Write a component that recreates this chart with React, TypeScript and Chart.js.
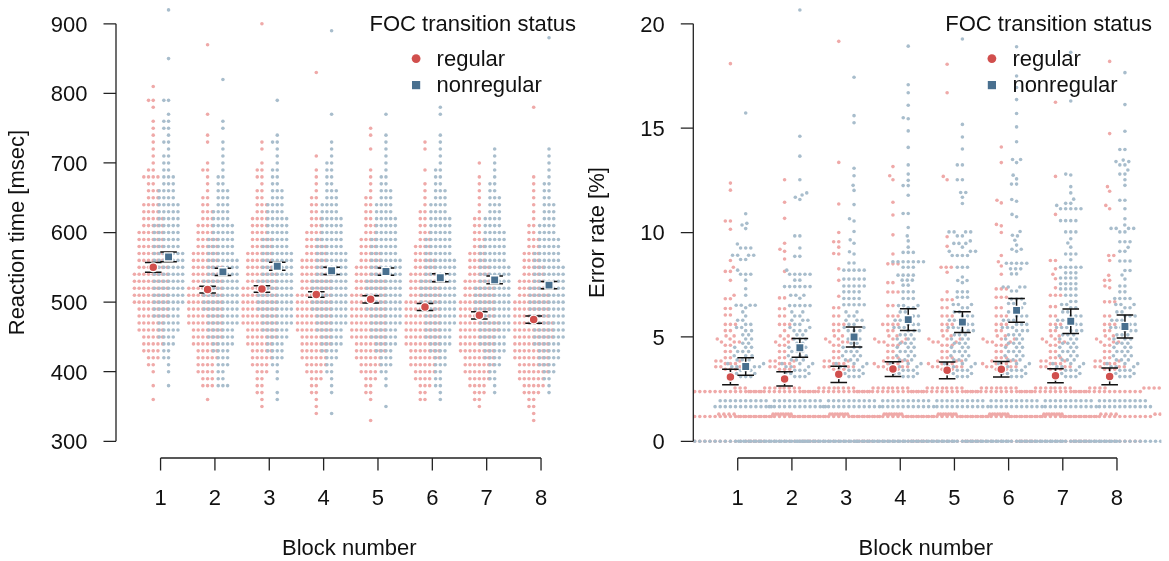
import { useEffect, useRef } from "react";
import { Chart, registerables } from "chart.js";

Chart.register(...registerables);

// ---------------- data ----------------
const blocks = [1, 2, 3, 4, 5, 6, 7, 8];
const blockLabels = ["1", "2", "3", "4", "5", "6", "7", "8"];
const groupLabels = ["regular", "nonregular"];
const legendTitle = "FOC transition status";
const xAxisTitle = "Block number";
const rtAxisTitle = "Reaction time [msec]";
const erAxisTitle = "Error rate [%]";
const rtTicks = [300, 400, 500, 600, 700, 800, 900];
const rtTickLabels = ["300", "400", "500", "600", "700", "800", "900"];
const erTicks = [0, 5, 10, 15, 20];
const erTickLabels = ["0", "5", "10", "15", "20"];

// condition means and half-widths of the error bars
const rtMeanRegular = [550, 518, 519, 511, 504, 493, 481, 475];
const rtErrRegular = [7, 4.7, 4.7, 4, 5.2, 5, 5.2, 5.2];
const rtMeanNonregular = [565, 543.5, 551.5, 545, 544, 535, 532, 524.5];
const rtErrNonregular = [7, 5.2, 5.7, 5.2, 5.2, 5.7, 5.7, 5.2];
const erMeanRegular = [3.08, 2.99, 3.21, 3.46, 3.4, 3.45, 3.14, 3.11];
const erErrRegular = [0.37, 0.34, 0.39, 0.35, 0.4, 0.37, 0.33, 0.4];
const erMeanNonregular = [3.58, 4.48, 5.0, 5.83, 5.71, 6.27, 5.75, 5.5];
const erErrNonregular = [0.42, 0.45, 0.48, 0.52, 0.5, 0.57, 0.585, 0.555];

// raw reaction times: participant counts per 10 ms bin, bins at 330, 340, 350, ...
const rtBinFirst = 330;
const rtBinStep = 10;
const rtReg1 = [0,0,0,1,0,1,0,1,2,3, 4,5,5,6,6,7,7,8,8,8, 8,8,7,7,7,6,6,6,5,5, 4,4,3,3,2,4,2,1,1,1, 1,1,1,1,0,1,2,0,1];
const rtReg2 = [0,0,0,1,0,3,3,4,4,5, 5,6,7,7,8,8,8,8,8,8, 7,7,7,6,6,5,5,4,4,3, 3,2,2,1,1,1,2,1,0,0, 1,1,0,0,1,0,0,0,0,0, 0,0,0,0,1];
const rtReg3 = [0,0,1,1,2,2,2,3,4,5, 5,6,7,7,8,8,8,8,8,8, 7,7,7,6,6,5,5,4,4,4, 3,3,2,2,1,2,2,1,0,1, 1,0,0,0,0,0,0,0,0,0, 0,0,0,0,0,0,0,1];
const rtReg4 = [0,1,1,1,2,2,3,4,5,6, 6,7,7,8,8,8,8,8,8,7, 7,7,6,6,5,5,4,4,3,3, 2,2,2,1,1,1,1,0,1,0, 0,0,0,0,0,0,0,0,0,0, 1];
const rtReg5 = [1,0,0,1,2,2,3,4,5,6, 7,7,8,8,8,8,8,8,8,7, 7,6,6,5,5,4,4,3,3,2, 2,2,2,1,1,1,1,0,0,1, 0,1,1];
const rtReg6 = [0,0,0,2,2,3,4,5,6,7, 7,8,8,8,8,8,8,8,7,7, 6,6,5,5,4,4,3,3,2,2, 2,1,1,1,1,0,1,0,0,1, 1];
const rtReg7 = [0,0,1,2,3,4,5,6,7,7, 8,8,8,9,9,8,8,8,7,7, 6,5,5,4,4,3,3,2,2,2, 1,1,1,1,1,1,0,1];
const rtReg8 = [1,1,2,2,4,5,6,7,7,8, 8,8,9,9,9,8,8,8,7,7, 6,5,5,4,4,3,3,2,2,1, 1,1,1,1,1,1,0,0,0,0, 0,0,0,0,0,1];
const rtNon1 = [0,0,0,0,0,1,0,1,1,2, 2,3,4,5,5,6,6,7,7,7, 7,7,7,7,7,6,6,6,6,5, 5,5,4,4,3,3,2,2,2,1, 2,1,2,2,1,0,2,0,0,0, 0,0,1,0,0,0,0,0,0,1];
const rtNon2 = [0,0,0,0,0,3,2,2,3,3, 4,5,6,6,7,7,8,8,8,8, 8,7,7,7,6,6,6,5,5,4, 4,3,3,3,2,2,1,1,1,1, 1,0,1,1,0,0,0,0,0,1];
const rtNon3 = [0,0,0,1,1,0,1,1,2,3, 4,4,5,6,7,7,8,8,8,8, 8,7,7,7,7,6,6,5,5,5, 4,4,3,3,2,2,2,1,1,1, 2,1,0,0,0,0,1];
const rtNon4 = [0,1,0,0,1,1,1,2,2,3, 4,5,5,6,7,7,8,8,8,8, 8,7,7,7,7,6,6,5,5,5, 4,4,3,3,2,2,2,2,1,1, 1,0,0,0,1,0,0,0,0,0, 0,0,0,0,0,0,1];
const rtNon5 = [0,0,1,0,0,1,1,2,3,3, 4,5,6,6,7,7,8,8,8,8, 8,7,7,7,6,6,6,5,5,5, 4,4,3,3,2,2,1,1,1,1, 1,1,0,0,1];
const rtNon6 = [0,0,0,1,1,2,2,2,3,3, 4,5,6,6,7,7,8,8,8,8, 8,7,7,7,6,6,6,5,5,5, 4,4,3,3,2,2,2,1,1,1, 1,1,0,0,1,1];
const rtNon7 = [0,0,0,0,1,1,2,2,3,4, 5,6,6,7,7,8,8,8,8,8, 7,7,7,6,6,6,5,5,4,4, 3,3,3,2,2,1,1,1,1,1];
const rtNon8 = [0,0,0,0,1,1,2,3,4,5, 5,6,7,7,8,8,8,8,8,8, 7,7,7,6,6,5,5,4,4,3, 3,3,2,2,2,1,1,1,1,1, 0,0,0,0,0,0,0,0,0,0, 0,0,0,0,0,1];

// raw error rates: [error rate %, number of participants]
const erReg1 = [[0,14],[1.19,18],[1.3,8],[2.38,14],[2.55,8],[3.45,3],[3.57,4],[3.72,3],[3.85,3],[4.0,2],[4.3,2],[4.6,2],[4.76,3],[4.9,2],[5.05,2],[5.3,2],[5.6,3],[6.05,2],[6.36,2],[6.83,2],[7.0,1],[7.71,1],[8.14,2],[8.34,1],[8.66,1],[10.16,1],[10.55,2],[12.03,1],[12.37,1],[18.09,1]];
const erReg2 = [[0,14],[1.19,18],[1.3,8],[2.38,14],[2.55,7],[3.45,3],[3.57,3],[3.72,3],[3.85,3],[4.0,2],[4.3,2],[4.6,2],[4.76,2],[4.9,2],[5.05,2],[5.3,1],[5.6,3],[6.0,2],[6.35,2],[6.87,2],[8.14,1],[8.73,1],[9.1,1],[9.2,1],[9.49,1],[10.68,1],[11.45,1],[12.53,1]];
const erReg3 = [[0,14],[1.19,18],[1.3,8],[2.38,14],[2.55,8],[3.45,3],[3.57,4],[3.72,3],[3.85,3],[4.0,2],[4.3,2],[4.6,2],[4.76,3],[4.9,2],[5.05,2],[5.3,2],[5.6,3],[6.0,2],[6.4,2],[6.95,1],[7.71,1],[8.26,1],[8.97,1],[9.0,1],[9.3,1],[9.56,2],[10.0,1],[11.37,1],[13.36,1],[19.16,1]];
const erReg4 = [[0,14],[1.19,17],[1.3,8],[2.38,14],[2.55,8],[3.45,3],[3.57,4],[3.72,4],[3.85,3],[4.0,3],[4.3,2],[4.6,3],[4.76,3],[4.9,3],[5.05,2],[5.3,2],[5.6,4],[6.0,3],[6.5,2],[7.15,3],[7.6,2],[8.5,3],[8.97,1],[9.89,1],[10.84,1],[11.45,1],[12.53,1],[12.72,1],[13.16,1]];
const erReg5 = [[0,14],[1.19,17],[1.3,8],[2.38,14],[2.55,8],[3.45,3],[3.57,4],[3.72,4],[3.85,3],[4.0,3],[4.3,2],[4.6,3],[4.76,3],[4.9,3],[5.05,2],[5.3,2],[5.6,3],[6.0,3],[6.4,2],[6.78,3],[7.16,1],[8.1,1],[8.34,3],[9.34,1],[9.8,1],[12.53,1],[12.69,1],[16.7,1],[18.06,1]];
const erReg6 = [[0,14],[1.19,17],[1.3,8],[2.38,14],[2.55,8],[3.45,3],[3.57,4],[3.72,4],[3.85,3],[4.0,3],[4.3,2],[4.6,3],[4.76,3],[4.9,3],[5.05,2],[5.3,2],[5.6,3],[6.0,3],[6.4,2],[6.9,3],[7.3,3],[8.0,1],[8.4,1],[8.6,1],[8.9,1],[10.0,1],[10.32,1],[10.39,1],[11.42,1],[11.55,1],[13.35,1],[14.1,1]];
const erReg7 = [[0,14],[1.19,18],[1.3,8],[2.38,14],[2.55,8],[3.45,3],[3.57,4],[3.72,3],[3.85,3],[4.0,3],[4.3,2],[4.6,2],[4.76,3],[4.9,2],[5.05,2],[5.3,2],[5.6,3],[6.0,2],[6.45,2],[7.0,3],[7.35,1],[7.79,1],[8.0,1],[8.26,1],[8.66,2],[10.87,1],[12.69,1],[16.24,1]];
const erReg8 = [[0,14],[1.19,18],[1.3,8],[2.38,14],[2.55,8],[3.45,3],[3.57,4],[3.72,3],[3.85,3],[4.0,2],[4.3,2],[4.6,2],[4.76,3],[4.9,2],[5.05,2],[5.3,2],[5.6,3],[6.0,2],[6.68,3],[7.35,1],[7.44,1],[7.71,2],[7.95,1],[8.66,1],[8.9,2],[11.14,1],[11.3,1],[11.98,1],[12.2,1],[14.74,1],[18.2,1]];
const erNon1 = [[0,26],[1.66,12],[1.94,10],[3.1,3],[3.25,3],[3.4,3],[3.57,4],[3.72,3],[3.9,3],[4.1,3],[4.3,3],[4.5,3],[4.7,2],[4.9,2],[5.1,2],[5.3,2],[5.45,2],[5.6,2],[5.8,2],[6.0,1],[6.2,1],[6.4,1],[6.52,4],[7.0,1],[7.31,1],[7.72,1],[8.0,3],[8.2,1],[8.71,2],[8.91,4],[9.26,3],[9.45,1],[10.19,1],[10.36,1],[10.44,1],[10.9,1],[15.73,1]];
const erNon2 = [[0,24],[1.66,12],[1.94,10],[3.1,3],[3.25,3],[3.4,3],[3.57,3],[3.72,3],[3.9,3],[4.1,3],[4.3,3],[4.5,3],[4.7,2],[4.9,3],[5.1,2],[5.3,3],[5.45,2],[5.6,2],[5.8,3],[6.0,2],[6.2,2],[6.5,5],[6.85,1],[7.0,3],[7.41,6],[7.72,2],[8.0,5],[8.2,1],[8.86,2],[9.26,1],[9.84,2],[11.58,1],[11.69,1],[11.8,1],[11.9,1],[12.53,1],[13.66,1],[14.61,1],[20.66,1]];
const erNon3 = [[0,22],[1.66,12],[1.94,10],[3.1,3],[3.25,3],[3.4,3],[3.57,3],[3.72,3],[3.9,3],[4.1,3],[4.3,3],[4.5,3],[4.7,2],[4.9,3],[5.1,2],[5.3,3],[5.45,2],[5.6,2],[5.8,3],[6.0,2],[6.2,2],[6.54,5],[6.84,4],[7.16,4],[7.44,5],[7.77,5],[8.2,5],[8.54,2],[8.97,1],[9.08,1],[9.49,1],[9.65,1],[10.05,1],[10.55,1],[10.66,1],[11.34,1],[12.02,1],[12.26,1],[12.72,1],[13.08,1],[15.26,1],[15.6,1],[17.44,1]];
const erNon4 = [[0,20],[1.66,11],[1.94,10],[3.1,3],[3.25,3],[3.4,3],[3.57,3],[3.72,3],[3.9,3],[4.1,3],[4.3,3],[4.5,3],[4.7,3],[4.9,3],[5.1,3],[5.3,3],[5.45,3],[5.6,3],[5.8,3],[6.0,3],[6.2,2],[6.4,2],[6.5,3],[6.84,3],[7.16,3],[7.48,2],[7.72,3],[7.96,4],[8.34,3],[8.6,7],[9.05,3],[9.3,1],[9.6,1],[9.84,1],[10.24,1],[10.91,2],[11.79,1],[12.25,2],[12.5,1],[12.8,1],[13.24,1],[14.08,1],[14.87,1],[15.45,1],[15.5,1],[16.1,1],[16.7,1],[17.08,1],[18.93,1]];
const erNon5 = [[0,20],[1.66,11],[1.94,10],[3.1,3],[3.25,3],[3.4,3],[3.57,3],[3.72,3],[3.9,3],[4.1,3],[4.3,3],[4.5,3],[4.7,3],[4.9,3],[5.1,3],[5.3,3],[5.45,3],[5.6,3],[5.8,3],[6.0,3],[6.2,2],[6.4,2],[6.55,3],[6.9,3],[7.16,3],[7.6,1],[7.7,2],[7.87,1],[8.34,3],[8.9,4],[9.1,3],[9.3,1],[9.48,3],[9.6,1],[9.84,2],[10.03,4],[11.39,1],[11.69,1],[11.92,2],[12.53,2],[13.24,2],[14.0,1],[14.58,1],[15.18,1],[19.27,1]];
const erNon6 = [[0,20],[1.66,11],[1.94,10],[3.1,3],[3.25,3],[3.4,3],[3.57,3],[3.72,3],[3.9,3],[4.1,3],[4.3,3],[4.5,3],[4.7,3],[4.9,3],[5.1,3],[5.3,3],[5.45,3],[5.6,3],[5.8,3],[6.0,3],[6.2,2],[6.4,2],[6.6,3],[6.82,3],[7.2,2],[7.39,4],[8.02,2],[8.26,3],[8.53,5],[9.1,1],[9.2,2],[9.4,1],[9.63,1],[9.84,1],[9.87,1],[10.05,1],[10.76,1],[10.87,1],[11.5,1],[11.58,1],[12.32,2],[12.57,1],[12.75,1],[13.35,1],[13.5,2],[14.35,1],[15.06,1],[15.7,1],[16.37,1],[16.95,1],[17.5,1],[18.9,1]];
const erNon7 = [[0,20],[1.66,11],[1.94,10],[3.1,3],[3.25,3],[3.4,3],[3.57,3],[3.72,3],[3.9,3],[4.1,3],[4.3,3],[4.5,3],[4.7,3],[4.9,3],[5.1,3],[5.3,3],[5.45,3],[5.6,3],[5.8,3],[6.0,3],[6.2,2],[6.4,2],[6.55,2],[6.7,2],[7.0,3],[7.3,4],[7.55,4],[7.82,4],[8.07,3],[8.34,5],[8.7,1],[8.97,3],[9.3,1],[9.5,1],[9.7,1],[10.03,3],[10.57,4],[11.14,5],[11.3,1],[11.4,2],[11.6,1],[11.9,1],[12.2,1],[12.76,1],[12.8,1],[16.3,1],[18.64,1]];
const erNon8 = [[0,20],[1.66,11],[1.94,10],[3.1,3],[3.25,3],[3.4,3],[3.57,3],[3.72,3],[3.9,3],[4.1,3],[4.3,3],[4.5,3],[4.7,3],[4.9,3],[5.1,3],[5.3,3],[5.45,3],[5.6,3],[5.8,3],[6.0,3],[6.2,2],[6.4,2],[6.55,3],[6.84,4],[7.16,2],[7.44,2],[7.77,1],[7.97,1],[8.18,2],[8.64,3],[9.1,2],[9.29,1],[9.56,3],[10.03,2],[10.2,4],[10.36,1],[10.66,1],[11.14,1],[11.55,2],[12.26,1],[12.53,1],[12.8,2],[13.0,1],[13.24,2],[13.4,2],[13.47,1],[13.98,2],[14.85,1],[16.13,1],[17.66,1]];

// ---------------- expansion of the stored data ----------------
const fromBins = (counts: number[]) => {
  const out: number[] = [];
  counts.forEach((c, i) => {
    for (let k = 0; k < c; k++) out.push(rtBinFirst + i * rtBinStep);
  });
  return out;
};
const fromPairs = (pairs: number[][]) => {
  const out: number[] = [];
  pairs.forEach(([v, c]) => {
    for (let k = 0; k < c; k++) out.push(v);
  });
  return out;
};
const rtRawRegular = [rtReg1, rtReg2, rtReg3, rtReg4, rtReg5, rtReg6, rtReg7, rtReg8].map(fromBins);
const rtRawNonregular = [rtNon1, rtNon2, rtNon3, rtNon4, rtNon5, rtNon6, rtNon7, rtNon8].map(fromBins);
const erRawRegular = [erReg1, erReg2, erReg3, erReg4, erReg5, erReg6, erReg7, erReg8].map(fromPairs);
const erRawNonregular = [erNon1, erNon2, erNon3, erNon4, erNon5, erNon6, erNon7, erNon8].map(fromPairs);

// ---------------- styles ----------------
const FONT = '"Liberation Sans", Arial, Helvetica, sans-serif';
const REG_OFF = -0.135;
const NON_OFF = 0.147;
const COL_REG = "#d14f4d";
const COL_NON = "#49708f";
const COL_REG_RAW = "#efa9a8";
const COL_NON_RAW = "#a8bdcc";
const INK = "#111111";

const panels = [
  {
    yMin: 276, yMax: 924, ticks: rtTicks, tickLabels: rtTickLabels, yTitle: rtAxisTitle,
    meanReg: rtMeanRegular, errReg: rtErrRegular, meanNon: rtMeanNonregular, errNon: rtErrNonregular,
    rawReg: rtRawRegular, rawNon: rtRawNonregular,
    left: 116, right: 585.6, yTitleX: 18.4, swarmD: 4.7,
  },
  {
    yMin: -0.8, yMax: 20.8, ticks: erTicks, tickLabels: erTickLabels, yTitle: erAxisTitle,
    meanReg: erMeanRegular, errReg: erErrRegular, meanNon: erMeanNonregular, errNon: erErrNonregular,
    rawReg: erRawRegular, rawNon: erRawNonregular,
    left: 693.3, right: 1161.4, yTitleX: 598.2, swarmD: 5.1,
  },
];

// beeswarm offsets (pixels) for a set of pixel y positions
function swarm(ys: number[], d: number): number[] {
  const order = ys.map((_, i) => i).sort((a, b) => ys[b] - ys[a]);
  const placed: { x: number; y: number }[] = [];
  const out = new Array(ys.length).fill(0);
  const d2 = d * d - 0.01;
  for (const i of order) {
    const y = ys[i];
    const near = placed.filter((p) => Math.abs(p.y - y) < d);
    const cands = [0];
    for (const p of near) {
      const dx = Math.sqrt(Math.max(0, d * d - (p.y - y) * (p.y - y)));
      cands.push(p.x - dx, p.x + dx);
    }
    cands.sort((a, b) => Math.abs(a) - Math.abs(b) || a - b);
    let best = 0;
    for (const c of cands) {
      if (near.every((p) => (p.x - c) * (p.x - c) + (p.y - y) * (p.y - y) >= d2)) {
        best = c;
        break;
      }
    }
    placed.push({ x: best, y });
    out[i] = best;
  }
  return out;
}

function Panel({ cfg }: { cfg: any }) {
  const ref = useRef<HTMLCanvasElement>(null);
  useEffect(() => {
    const canvas = ref.current;
    if (!canvas) return;

    const decor = {
      id: "panelDecor",
      beforeDatasetDraw(chart: any, args: any) {
        if (args.index !== 1) return;
        const ctx = chart.ctx;
        const xs = chart.scales.x;
        const ys = chart.scales.y;
        const CAP = 8.3;
        ctx.save();
        ctx.strokeStyle = INK;
        ctx.lineWidth = 1.5;
        const bars = (means: number[], errs: number[], off: number) => {
          means.forEach((m, i) => {
            const x = xs.getPixelForValue(blocks[i] + off);
            const y1 = ys.getPixelForValue(m - errs[i]);
            const y2 = ys.getPixelForValue(m + errs[i]);
            ctx.beginPath();
            ctx.moveTo(x, y1);
            ctx.lineTo(x, y2);
            ctx.moveTo(x - CAP, y1);
            ctx.lineTo(x + CAP, y1);
            ctx.moveTo(x - CAP, y2);
            ctx.lineTo(x + CAP, y2);
            ctx.stroke();
          });
        };
        bars(cfg.meanReg, cfg.errReg, REG_OFF);
        bars(cfg.meanNon, cfg.errNon, NON_OFF);
        ctx.restore();
      },
      afterDraw(chart: any) {
        const ctx = chart.ctx;
        const xs = chart.scales.x;
        const ys = chart.scales.y;
        const area = chart.chartArea;
        ctx.save();
        ctx.strokeStyle = "#222222";
        ctx.lineWidth = 1.3;
        ctx.fillStyle = INK;
        ctx.font = `22px ${FONT}`;
        // y axis
        const ax = area.left;
        const yT = cfg.ticks.map((t: number) => ys.getPixelForValue(t));
        ctx.beginPath();
        ctx.moveTo(ax, yT[0]);
        ctx.lineTo(ax, yT[yT.length - 1]);
        yT.forEach((y: number) => {
          ctx.moveTo(ax - 12.5, y);
          ctx.lineTo(ax, y);
        });
        ctx.stroke();
        ctx.textAlign = "right";
        ctx.textBaseline = "middle";
        cfg.tickLabels.forEach((lab: string, i: number) => ctx.fillText(lab, ax - 28.5, yT[i] + 1.8));
        // x axis
        const by = area.bottom;
        const xT = blocks.map((b) => xs.getPixelForValue(b));
        ctx.beginPath();
        ctx.moveTo(xT[0], by);
        ctx.lineTo(xT[xT.length - 1], by);
        xT.forEach((x) => {
          ctx.moveTo(x, by);
          ctx.lineTo(x, by + 12.5);
        });
        ctx.stroke();
        ctx.textAlign = "center";
        xT.forEach((x, i) => ctx.fillText(blockLabels[i], x, by + 40.5));
        ctx.fillText(xAxisTitle, (area.left + area.right) / 2 - 1.5, by + 91);
        // y title
        ctx.save();
        ctx.translate(cfg.yTitleX, (area.top + area.bottom) / 2);
        ctx.rotate(-Math.PI / 2);
        ctx.fillText(cfg.yTitle, 0, 0);
        ctx.restore();
        // legend
        const R = area.right;
        const T = area.top;
        ctx.textAlign = "right";
        ctx.fillText(legendTitle, R - 9.5, T + 18);
        const sx = R - 169.5;
        ctx.fillStyle = COL_REG;
        ctx.beginPath();
        ctx.arc(sx, T + 51.5, 4.4, 0, Math.PI * 2);
        ctx.fill();
        ctx.fillStyle = COL_NON;
        ctx.fillRect(sx - 4.1, T + 78 - 4.1, 8.2, 8.2);
        ctx.fillStyle = INK;
        ctx.textAlign = "left";
        ctx.fillText(groupLabels[0], sx + 20.5, T + 53);
        ctx.fillText(groupLabels[1], sx + 20.5, T + 78.5);
        ctx.restore();
      },
    };

    const chart = new Chart(canvas, {
      type: "scatter",
      data: {
        datasets: [
          {
            label: "regular mean",
            data: cfg.meanReg.map((m: number, i: number) => ({ x: blocks[i] + REG_OFF, y: m })),
            pointStyle: "circle",
            pointRadius: 4.4,
            pointHoverRadius: 4.4,
            pointBackgroundColor: COL_REG,
            pointBorderColor: "#ffffff",
            pointBorderWidth: 1.3,
            order: 0,
            clip: false,
          },
          {
            label: "nonregular mean",
            data: cfg.meanNon.map((m: number, i: number) => ({ x: blocks[i] + NON_OFF, y: m })),
            pointStyle: "rect",
            pointRadius: 5.8,
            pointHoverRadius: 5.8,
            pointBackgroundColor: COL_NON,
            pointBorderColor: "#ffffff",
            pointBorderWidth: 1.3,
            order: 1,
            clip: false,
          },
          {
            label: "nonregular",
            data: [],
            pointStyle: "circle",
            pointRadius: 1.8,
            pointHoverRadius: 1.8,
            pointBackgroundColor: COL_NON_RAW,
            pointBorderWidth: 0,
            order: 2,
            clip: 0,
          },
          {
            label: "regular",
            data: [],
            pointStyle: "circle",
            pointRadius: 1.8,
            pointHoverRadius: 1.8,
            pointBackgroundColor: COL_REG_RAW,
            pointBorderWidth: 0,
            order: 3,
            clip: 0,
          },
        ],
      },
      options: {
        responsive: false,
        animation: false,
        devicePixelRatio: 1,
        events: [],
        layout: { padding: { left: cfg.left, right: 1169 - cfg.right, top: 2, bottom: 103 } },
        scales: {
          x: { type: "linear", min: 0.18, max: 8.82, display: false },
          y: { type: "linear", min: cfg.yMin, max: cfg.yMax, display: false },
        },
        plugins: { legend: { display: false }, tooltip: { enabled: false } },
      },
      plugins: [decor],
    } as any);

    // beeswarm layout using the chart's own scales
    const xs: any = chart.scales.x;
    const ys: any = chart.scales.y;
    const unit = xs.getPixelForValue(1) - xs.getPixelForValue(0);
    const build = (groups: number[][], off: number) => {
      const out: { x: number; y: number }[] = [];
      groups.forEach((vals, bi) => {
        const py = vals.map((v) => ys.getPixelForValue(v));
        const dx = swarm(py, cfg.swarmD);
        vals.forEach((v, i) => out.push({ x: blocks[bi] + off + dx[i] / unit, y: v }));
      });
      return out;
    };
    chart.data.datasets[2].data = build(cfg.rawNon, NON_OFF) as any;
    chart.data.datasets[3].data = build(cfg.rawReg, REG_OFF) as any;
    chart.update();

    return () => chart.destroy();
  }, [cfg]);
  return (
    <canvas
      ref={ref}
      width={1169}
      height={561}
      style={{ position: "absolute", left: 0, top: 0, width: 1169, height: 561 }}
    />
  );
}

export default function App() {
  return (
    <div style={{ position: "absolute", left: 0, top: 0, width: 1169, height: 561, background: "#ffffff" }}>
      <Panel cfg={panels[0]} />
      <Panel cfg={panels[1]} />
    </div>
  );
}
